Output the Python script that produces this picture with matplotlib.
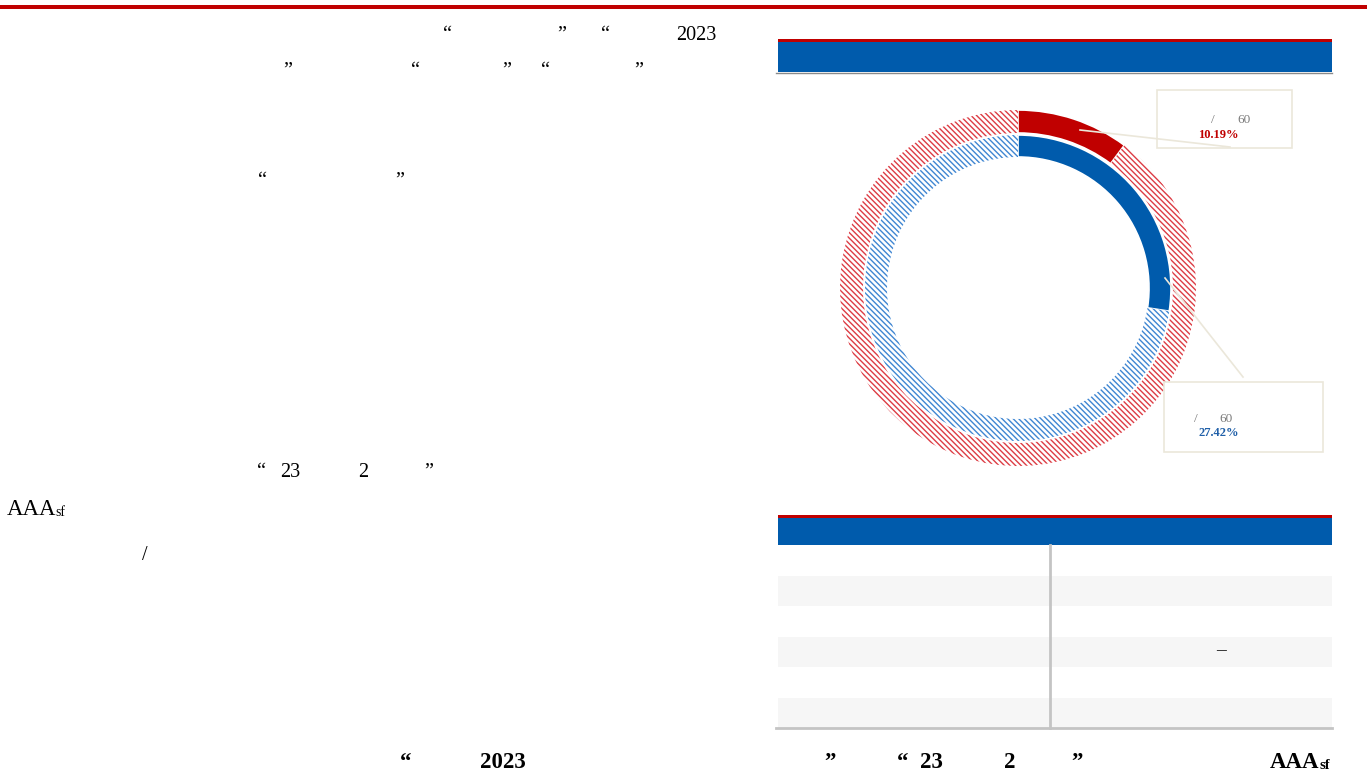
import matplotlib
matplotlib.use("Agg")
import matplotlib.pyplot as plt
from matplotlib.patches import Rectangle

# ---------------- data ----------------
outer_labels = ["占比", "其他"]
outer_values = [10.19, 89.81]
inner_labels = ["占比", "其他"]
inner_values = [27.42, 72.58]
callout_values = ["10.19%", "27.42%"]
callout_number = "60"

# visible text fragments of the page (CJK glyphs absent in the reference)
body_fragments = [
    ("\u201c", 443, 40), ("\u201d", 557, 40), ("\u201c", 601, 40), ("2023", 676, 40),
    ("\u201d", 283, 76), ("\u201c", 411, 76), ("\u201d", 502, 76), ("\u201c", 541, 76), ("\u201d", 634, 76),
    ("\u201c", 258, 186), ("\u201d", 395, 186),
    ("\u201c", 257, 477), ("23", 280, 477), ("2", 358, 477), ("\u201d", 424, 477),
    ("/", 142, 560),
]
big_fragments = [("AAA", 7, 515)]
sub_fragments = [("sf", 55, 516)]
bold_fragments = [
    ("\u201c", 400, 768), ("2023", 480, 768), ("\u201d", 824, 768), ("\u201c", 897, 768),
    ("23", 920, 768), ("2", 1004, 768), ("\u201d", 1071, 768), ("AAA", 1270, 768),
]
bold_sub_fragments = [("sf", 1319, 769)]

# ---------------- figure ----------------
W, H = 1367, 777
fig = plt.figure(figsize=(W / 100, H / 100), dpi=100)
fig.patch.set_facecolor("white")

RED = "#c00000"
BLUE = "#005bac"
HRED = "#dd3c44"
HBLUE = "#3f86d2"
BEIGE = "#ebe7da"
GREY = "#c4c4c4"

# donut axes
cx, cy, R = 1018, 288, 178
axd = fig.add_axes([(cx - R) / W, (H - cy - R) / H, 2 * R / W, 2 * R / H])
plt.rcParams["hatch.linewidth"] = 1.0
hatch = "\\" * 6

w_out, _ = axd.pie(outer_values, radius=1.0, startangle=90, counterclock=False,
                   wedgeprops=dict(width=23 / R, linewidth=0))
w_in, _ = axd.pie(inner_values, radius=153 / R, startangle=90, counterclock=False,
                  wedgeprops=dict(width=22 / R, linewidth=0))
w_out[0].set_facecolor(RED); w_out[0].set_edgecolor("white"); w_out[0].set_linewidth(1.2)
w_out[1].set_facecolor("white"); w_out[1].set_edgecolor(HRED); w_out[1].set_hatch(hatch); w_out[1].set_linewidth(0)
w_in[0].set_facecolor(BLUE); w_in[0].set_edgecolor("white"); w_in[0].set_linewidth(1.2)
w_in[1].set_facecolor("white"); w_in[1].set_edgecolor(HBLUE); w_in[1].set_hatch(hatch); w_in[1].set_linewidth(0)
axd.set_xlim(-1, 1); axd.set_ylim(-1, 1)
axd.set_aspect("equal")
axd.axis("off")

# overlay axes in pixel coordinates
ax = fig.add_axes([0, 0, 1, 1], zorder=5)
ax.set_xlim(0, W); ax.set_ylim(H, 0)
ax.axis("off")
ax.patch.set_alpha(0)

def rect(x0, y0, x1, y1, color, **kw):
    ax.add_patch(Rectangle((x0, y0), x1 - x0, y1 - y0, facecolor=color, edgecolor="none", **kw))

# top red rule
rect(0, 5, W, 8.5, RED)
# section header 1
rect(778, 39, 1332, 42, RED)
rect(778, 42, 1332, 72, BLUE)
ax.plot([776, 1332], [72.5, 72.5], color="#8a8a8a", lw=1)

# callout boxes and leaders
ax.add_patch(Rectangle((1157, 90), 135, 58, facecolor="none", edgecolor=BEIGE, lw=1.2))
ax.add_patch(Rectangle((1164, 382), 159, 70, facecolor="white", edgecolor=BEIGE, lw=1.2))
ax.plot([1080, 1230], [130, 147], color=BEIGE, lw=1.2)
ax.plot([1165, 1243], [278, 377], color=BEIGE, lw=1.2)

gray_font = dict(family="Liberation Serif", fontsize=9.5, color="#7a7a7a")
pct_font = dict(family="Liberation Serif", fontsize=9, fontweight="bold")
ax.text(1213, 123, "/", ha="center", va="baseline", **gray_font)
ax.text(1244, 123, callout_number, ha="center", va="baseline", **gray_font)
ax.text(1218, 138, callout_values[0], color=RED, ha="center", va="baseline", **pct_font)
ax.text(1196, 422, "/", ha="center", va="baseline", **gray_font)
ax.text(1226, 422, callout_number, ha="center", va="baseline", **gray_font)
ax.text(1219, 436, callout_values[1], color="#1f5fa8", ha="center", va="baseline", **pct_font)

# table
rect(778, 515, 1332, 518, RED)
rect(778, 518, 1332, 545, BLUE)
row_tops = [545, 575.5, 606, 636.5, 667, 697.5]
for i, t in enumerate(row_tops):
    if i % 2 == 1:
        rect(778, t, 1332, t + 30.5, "#f6f6f6")
ax.plot([1050, 1050], [545, 728], color=GREY, lw=2)
ax.plot([776, 1332], [728, 728], color=GREY, lw=2)
ax.text(1221, 651, "\u2013", color="black", ha="center", va="center", family="Liberation Serif", fontsize=14)

# body text fragments
for s, x, y in body_fragments:
    ax.text(x, y, s, family="Liberation Serif", fontsize=14.5, color="black", ha="left", va="baseline")
for s, x, y in big_fragments:
    ax.text(x, y, s, family="Liberation Serif", fontsize=16.5, color="black", ha="left", va="baseline")
for s, x, y in sub_fragments:
    ax.text(x, y, s, family="Liberation Serif", fontsize=10, color="black", ha="left", va="baseline")
for s, x, y in bold_fragments:
    ax.text(x, y, s, family="Liberation Serif", fontsize=16.5, fontweight="bold", color="black", ha="left", va="baseline")
for s, x, y in bold_sub_fragments:
    ax.text(x, y, s, family="Liberation Serif", fontsize=10.5, fontweight="bold", color="black", ha="left", va="baseline")

fig.savefig("out.png", dpi=100, facecolor="white")
